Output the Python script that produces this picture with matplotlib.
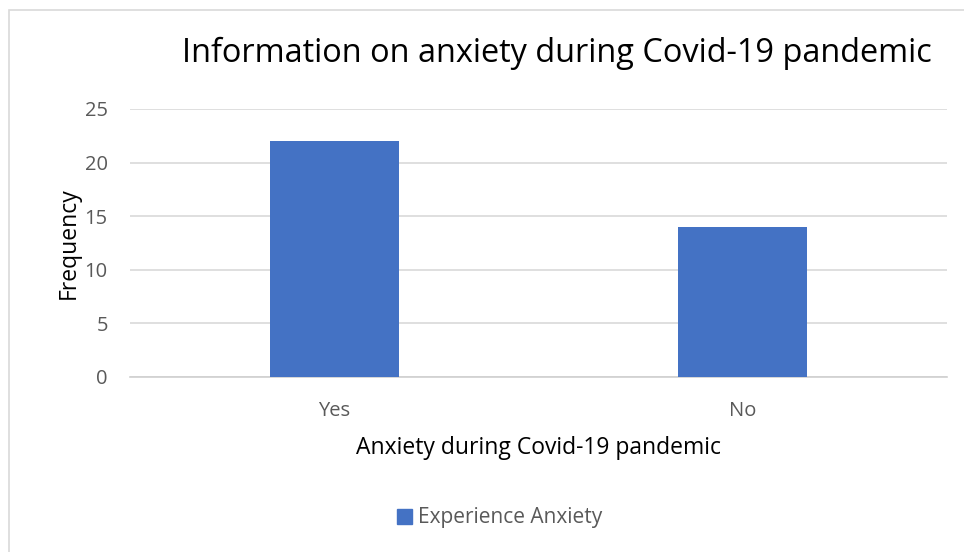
import matplotlib.pyplot as plt
from matplotlib.patches import Rectangle

categories = ["Yes", "No"]
frequency = [22, 14]
series_name = "Experience Anxiety"
yticks = [0, 5, 10, 15, 20, 25]

plt.rcParams['font.family'] = ['Open Sans', 'DejaVu Sans']

fig = plt.figure(figsize=(9.64, 5.52), dpi=100)
W, H = 964, 552

# outer chart border
fig.patches.append(Rectangle((9 / W, -0.2), 1.2, 1.2 - 10 / H, transform=fig.transFigure,
                             fill=False, edgecolor='#D9D9D9', linewidth=1.2))

ax = fig.add_axes([130 / W, (H - 377) / H, 817 / W, 268 / H])
x = range(len(categories))
ax.bar(x, frequency, width=0.316, color='#4472C4', zorder=3)
ax.set_xlim(-0.5, 1.5)
ax.set_ylim(0, 25)
ax.set_yticks(yticks)
ax.set_xticks(list(x))
ax.set_xticklabels(categories)
ax.grid(axis='y', color='#D9D9D9', linewidth=1.2, zorder=0)
for s in ['top', 'right', 'left']:
    ax.spines[s].set_visible(False)
ax.spines['bottom'].set_color('#D0D0D0')
ax.spines['bottom'].set_linewidth(1.2)
ax.tick_params(length=0, labelsize=14.5, colors='#595959')
ax.tick_params(axis='y', pad=16)
ax.tick_params(axis='x', pad=17)
ax.set_ylabel("Frequency", fontsize=16.5, color='black', labelpad=3)
ax.set_xlabel("Anxiety during Covid-19 pandemic", fontsize=16.5, color='black', labelpad=11)

fig.text(557 / W, 1 - 53 / H, "Information on anxiety during Covid-19 pandemic",
         fontsize=23.4, ha='center', va='center', color='black')

leg = fig.legend([Rectangle((0, 0), 1, 1, color='#4472C4')], [series_name],
                 loc='center', bbox_to_anchor=(500 / W, 1 - 518 / H), frameon=False,
                 fontsize=15, handlelength=0.7, handleheight=0.7, handletextpad=0.3)
for t in leg.get_texts():
    t.set_color('#595959')

fig.savefig("out.png", dpi=100)
